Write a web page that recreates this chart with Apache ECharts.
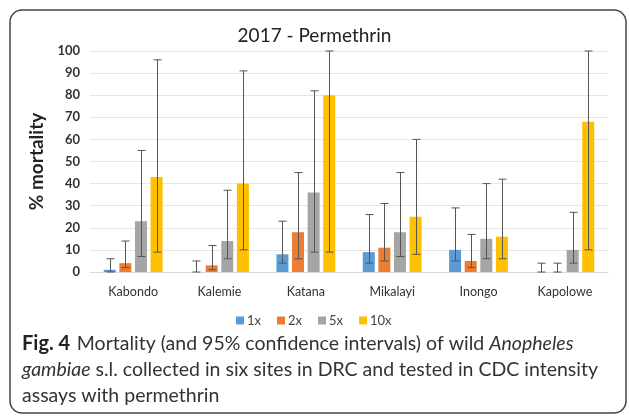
<!DOCTYPE html>
<html>
<head>
<meta charset="utf-8">
<script src="https://cdn.jsdelivr.net/npm/echarts@6/dist/echarts.min.js"></script>
<style>
  html, body { margin: 0; padding: 0; background: #fff; }
  #chart { width: 629px; height: 416px; }
</style>
</head>
<body>
<div id="chart"></div>
<script>
// sites and insecticide doses
const categories = ["Kabondo", "Kalemie", "Katana", "Mikalayi", "Inongo", "Kapolowe"];
const doses = ["1x", "2x", "5x", "10x"];
const colors = ["#5b9bd5", "#ed7d31", "#a5a5a5", "#ffc000"];

// % mortality per dose
const mort1x = [1, 0, 8, 9, 10, 0];
const mort2x = [4, 3, 18, 11, 5, 0];
const mort5x = [23, 14, 36, 18, 15, 10];
const mort10x = [43, 40, 80, 25, 16, 68];

// 95% confidence intervals (lower / upper)
const low1x = [0, 0, 4, 4, 5, 0];
const high1x = [6, 5, 23, 26, 29, 4];
const low2x = [2, 1, 6, 5, 2, 0];
const high2x = [14, 12, 45, 31, 17, 4];
const low5x = [7, 6, 9, 7, 6, 4];
const high5x = [55, 37, 82, 45, 40, 27];
const low10x = [9, 10, 9, 8, 6, 10];
const high10x = [96, 91, 100, 60, 42, 100];

const yTicks = [0, 10, 20, 30, 40, 50, 60, 70, 80, 90, 100];

const mortality = [mort1x, mort2x, mort5x, mort10x];
const lows = [low1x, low2x, low5x, low10x];
const highs = [high1x, high2x, high5x, high10x];

const barW = 12;
const step = 15.6; // bar width + gap

let myChart = echarts.init(document.getElementById("chart"));

let series = [];
doses.forEach((d, i) => {
  series.push({
    name: d,
    type: "bar",
    barWidth: barW,
    barGap: "30%",
    itemStyle: { color: colors[i] },
    data: mortality[i]
  });
});
// error bars, shifted onto their bar
doses.forEach((d, i) => {
  let offset = (i - 1.5) * step;
  series.push({
    name: d + " CI",
    type: "custom",
    z: 5,
    encode: { x: 0, y: [1, 2] },
    data: categories.map((c, k) => [k, lows[i][k], highs[i][k]]),
    renderItem: (params, api) => {
      let lo = api.coord([api.value(0), api.value(1)]);
      let hi = api.coord([api.value(0), api.value(2)]);
      let x = Math.round(lo[0] + offset) + 0.5;
      let st = { stroke: "#555", lineWidth: 1 };
      return {
        type: "group",
        children: [
          { type: "line", shape: { x1: x, y1: lo[1], x2: x, y2: hi[1] }, style: st },
          { type: "line", shape: { x1: x - 4, y1: lo[1], x2: x + 4, y2: lo[1] }, style: st },
          { type: "line", shape: { x1: x - 4, y1: hi[1], x2: x + 4, y2: hi[1] }, style: st }
        ]
      };
    }
  });
});

myChart.setOption({
  animation: false,
  textStyle: { fontFamily: "Lato" },
  title: {
    text: "2017 - Permethrin",
    left: "center",
    top: 21,
    textStyle: { fontSize: 19, fontWeight: "normal", color: "#222", fontFamily: "Lato" }
  },
  legend: {
    data: doses,
    left: 231,
    top: 309,
    itemWidth: 8,
    itemHeight: 8,
    itemGap: 16,
    icon: "rect",
    textStyle: { fontSize: 13, color: "#444", padding: [0, 0, 0, -2] }
  },
  grid: { left: 90, right: 21, top: 51, bottom: 144 },
  xAxis: {
    type: "category",
    data: categories,
    axisLine: { lineStyle: { color: "#d9d9d9" } },
    axisTick: { show: false },
    axisLabel: { margin: 13, fontSize: 12.5, color: "#333" }
  },
  yAxis: {
    type: "value",
    min: yTicks[0],
    max: yTicks[yTicks.length - 1],
    interval: 10,
    name: "% mortality",
    nameLocation: "middle",
    nameGap: 38,
    nameTextStyle: { fontSize: 19, fontWeight: "bold", color: "#222" },
    axisLine: { show: false },
    axisTick: { show: false },
    axisLabel: { fontSize: 13, fontWeight: "bold", color: "#333", margin: 10 },
    splitLine: { lineStyle: { color: "#e6e6e6" } }
  },
  series: series,
  graphic: [
    {
      type: "rect",
      shape: { x: 10, y: 10, width: 616, height: 403, r: 12 },
      style: { fill: "none", stroke: "#444", lineWidth: 1.5 },
      z: 0
    },
    {
      type: "text",
      left: 22,
      top: 334,
      style: {
        text: "{b|Fig. 4}  {n|Mortality (and 95% confidence intervals) of wild }{i|Anopheles}\n{i|gambiae}{n| s.l. collected in six sites in DRC and tested in CDC intensity}\n{n|assays with permethrin}",
        rich: {
          b: { fontFamily: "Lato", fontWeight: "bold", fontSize: 20, fill: "#222", lineHeight: 26 },
          n: { fontFamily: "Lato", fontSize: 19.5, fill: "#333", lineHeight: 26 },
          i: { fontFamily: "Lato", fontStyle: "italic", fontSize: 19.5, fill: "#333", lineHeight: 26 }
        }
      }
    }
  ]
});
</script>
</body>
</html>
